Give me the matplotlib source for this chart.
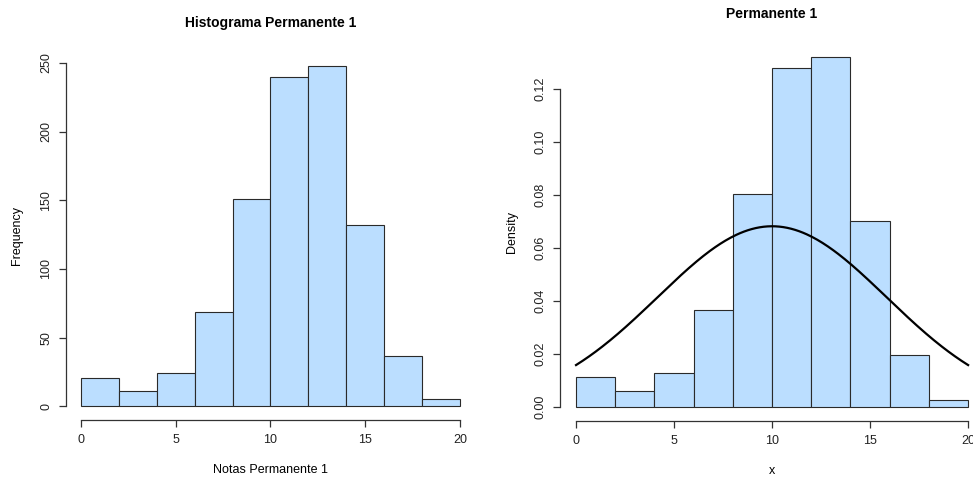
import matplotlib
matplotlib.use("Agg")
import matplotlib.pyplot as plt
import numpy as np

plt.rcParams["font.family"] = ["Liberation Sans", "DejaVu Sans"]

# histogram of grades, bins of width 2 from 0 to 20
bin_edges = [0, 2, 4, 6, 8, 10, 12, 14, 16, 18, 20]
counts = [21, 11, 24, 69, 151, 240, 248, 132, 37, 5]

# normal curve drawn over the density histogram
curve_mean = 10.0
curve_sd = 5.85

freq_ticks = [0, 50, 100, 150, 200, 250]
dens_ticks = [0.00, 0.02, 0.04, 0.06, 0.08, 0.10, 0.12]
x_ticks = [0, 5, 10, 15, 20]

BAR = "#bbdeff"
EDGE = "#2a2a2a"


def r_style(ax, xbounds, ybounds):
    for side in ("top", "right"):
        ax.spines[side].set_visible(False)
    ax.spines["left"].set_bounds(*ybounds)
    ax.spines["bottom"].set_bounds(*xbounds)
    for side in ("left", "bottom"):
        ax.spines[side].set_color("#333333")
        ax.spines[side].set_linewidth(0.9)
    ax.tick_params(direction="out", length=5, width=0.9, colors="#333333",
                   labelcolor="#222222", labelsize=9, pad=5)
    for lab in ax.get_yticklabels():
        lab.set_rotation(90)
        lab.set_va("center")


def extend(lo, hi):
    d = (hi - lo) * 0.04
    return lo - d, hi + d


fig = plt.figure(figsize=(9.73, 4.8), dpi=100)

edges = np.array(bin_edges)
widths = np.diff(edges)
cnt = np.array(counts)

# left: frequency histogram
ax1 = fig.add_axes([0.0678, 0.125, 0.4204, 0.7667])
ax1.bar(edges[:-1], cnt, width=widths, align="edge", color=BAR,
        edgecolor=EDGE, linewidth=0.8)
ax1.set_xlim(*extend(0, 20))
ax1.set_ylim(*extend(0, cnt.max()))
ax1.set_xticks(x_ticks)
ax1.set_yticks(freq_ticks)
r_style(ax1, (0, 20), (0, 250))
ax1.set_title("Histograma Permanente 1", fontsize=10, fontweight="bold", pad=18)
ax1.set_xlabel("Notas Permanente 1", fontsize=9, labelpad=13)
ax1.set_ylabel("Frequency", fontsize=9, labelpad=12)

# right: density histogram with normal curve
dens = cnt / (cnt.sum() * widths)
ax2 = fig.add_axes([0.5759, 0.1229, 0.4352, 0.7883])
ax2.bar(edges[:-1], dens, width=widths, align="edge", color=BAR,
        edgecolor=EDGE, linewidth=0.8)
xs = np.linspace(0, 20, 300)
ys = np.exp(-0.5 * ((xs - curve_mean) / curve_sd) ** 2) / (curve_sd * np.sqrt(2 * np.pi))
ax2.plot(xs, ys, color="black", linewidth=1.6)
ax2.set_xlim(*extend(0, 20))
ax2.set_ylim(*extend(0, dens.max()))
ax2.set_xticks(x_ticks)
ax2.set_yticks(dens_ticks)
ax2.set_yticklabels([f"{t:.2f}" for t in dens_ticks])
r_style(ax2, (0, 20), (0, 0.12))
ax2.set_title("Permanente 1", fontsize=10, fontweight="bold", pad=18)
ax2.set_xlabel("x", fontsize=9, labelpad=13)
ax2.set_ylabel("Density", fontsize=9, labelpad=12)

fig.savefig("out.png", dpi=100)
